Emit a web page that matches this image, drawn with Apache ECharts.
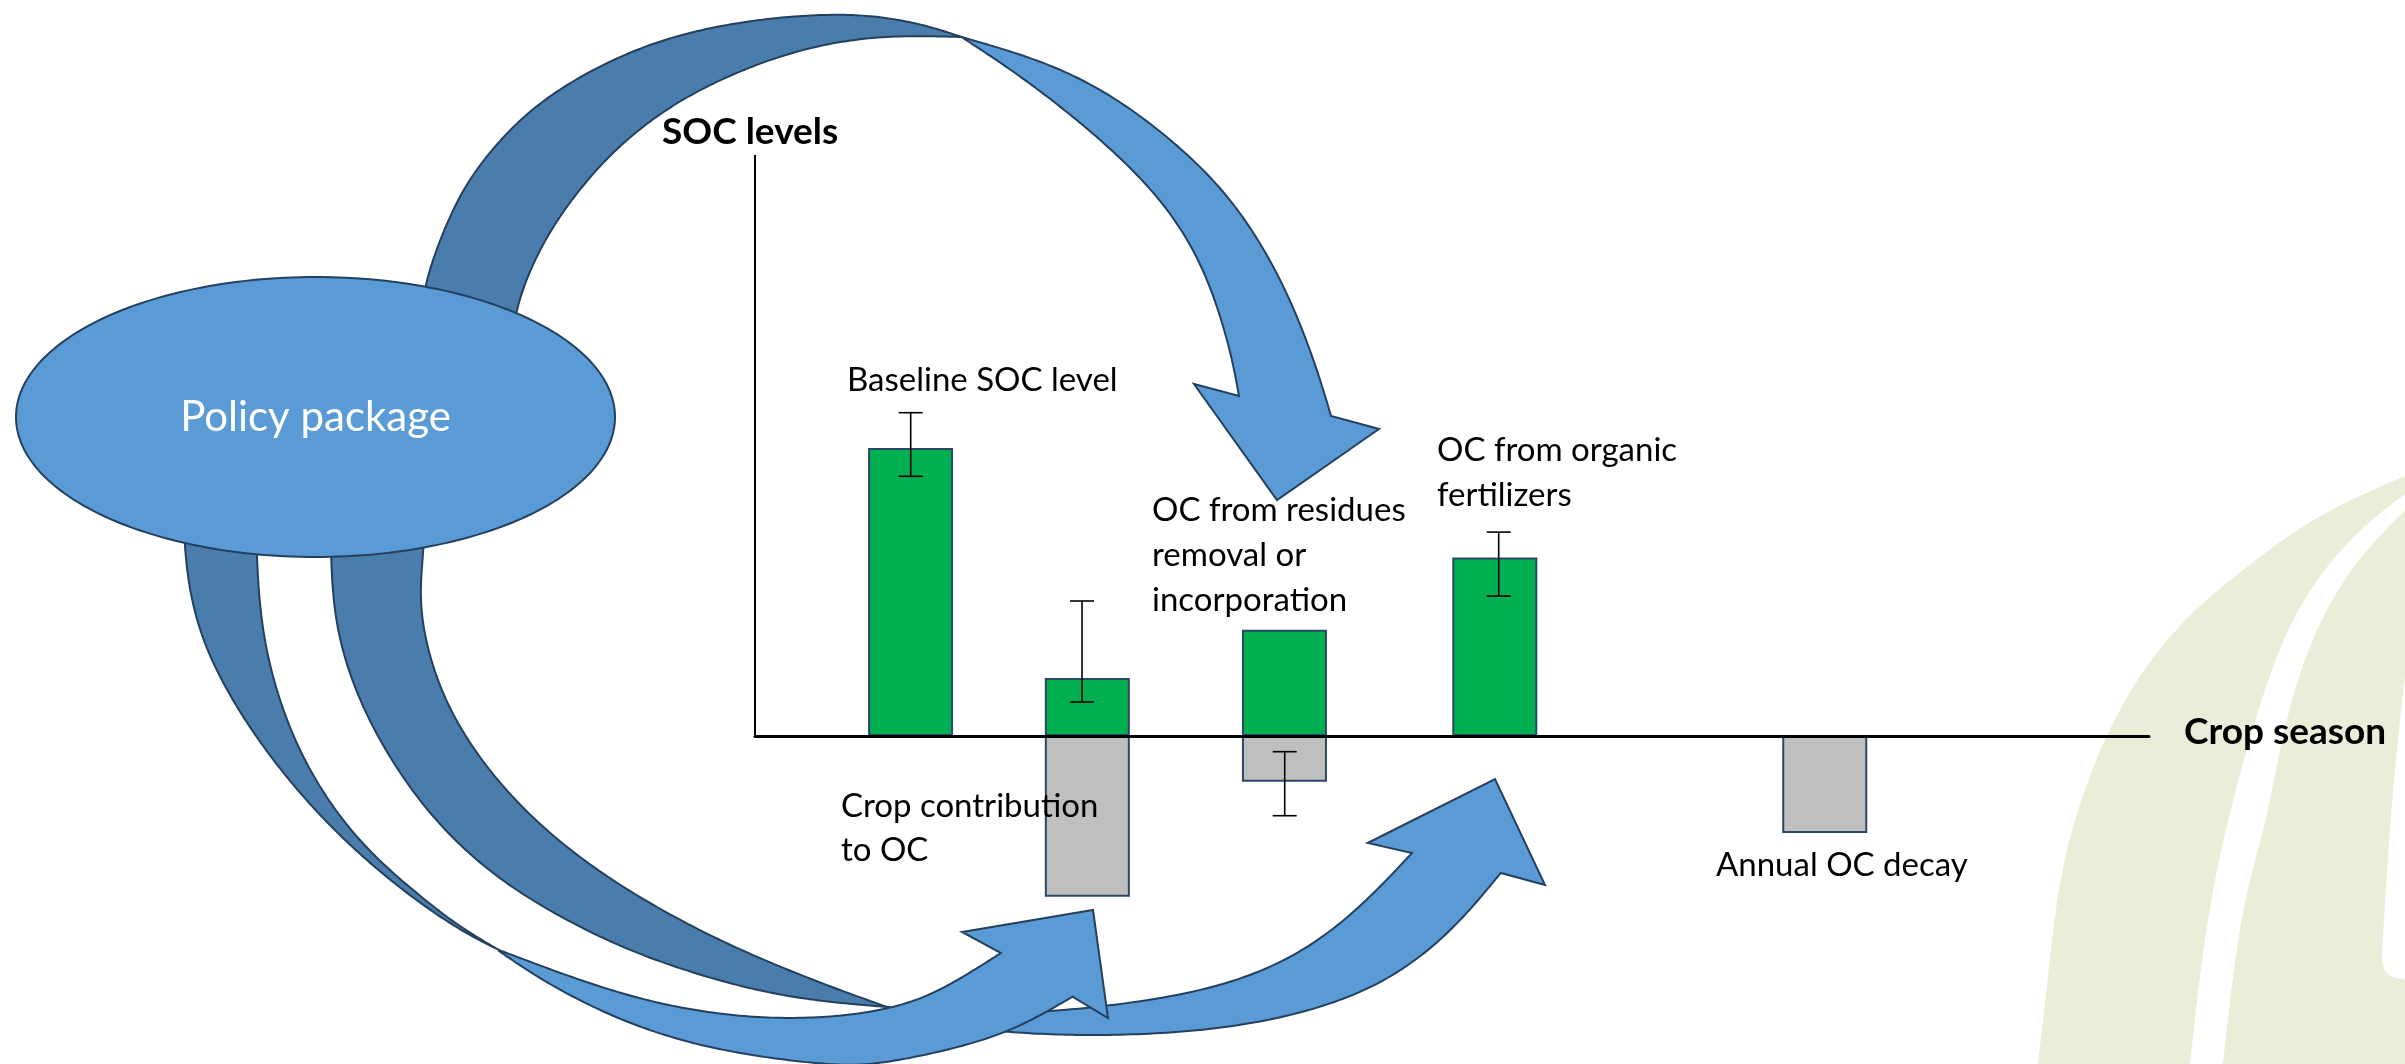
<!DOCTYPE html>
<html><head><meta charset="utf-8">
<script src="https://cdn.jsdelivr.net/npm/echarts@6/dist/echarts.min.js"></script>
<style>html,body{margin:0;padding:0;background:#fff}#c{width:2405px;height:1064px}</style>
</head><body><div id="c"></div>
<script>
// ---------------- DATA ----------------
const axisTitles = ['SOC levels', 'Crop season'];
const componentNames = ['Baseline SOC level', 'OC from residues removal or incorporation', 'OC from organic fertilizers', 'Crop contribution to OC', 'Annual OC decay'];
// position of each bar along the crop-season axis
const seasonPos   = [1.116, 2.384, 3.798, 5.307, 7.674];
// SOC gains (green) and losses (grey)
const gainValues  = [28.8, 5.8, 10.63, 17.85, null];
const lossValues  = [null, -16.07, -4.57, null, -9.7];
// error bars
const errPos      = [1.117, 2.346, 3.80, 5.335];
const errLow      = [25.97, 3.4, -7.97, 13.99];
const errHigh     = [32.33, 13.5, -1.57, 20.39];
const yAxisTop    = 58.1;
const centreText  = 'Policy package';

// ---------------- LAYOUT / STYLE ----------------
const FONT = 'Lato, "Open Sans", sans-serif';
const REG = 33, BOLD = 37;
const mid = (baseline, fs) => baseline - 0.387 * fs;

const labelLayout = [
  {lines: ['Baseline SOC level'], x: 847, base: [393]},
  {lines: ['OC from residues', 'removal or', 'incorporation'], x: 1152, base: [523, 568, 613]},
  {lines: ['OC from organic', 'fertilizers'], x: 1437, base: [463.5, 508]},
  {lines: ['Crop contribution', 'to OC'], x: 841, base: [819, 863]},
  {lines: ['Annual OC decay'], x: 1716, base: [878]}
];

// clamped uniform cubic B-spline (smooths small measurement noise, keeps end points)
function spline(pts, seg) {
  seg = seg || 16;
  const P = [pts[0], pts[0]].concat(pts, [pts[pts.length - 1], pts[pts.length - 1]]);
  const out = [];
  for (let i = 0; i < P.length - 3; i++) {
    const p0 = P[i], p1 = P[i + 1], p2 = P[i + 2], p3 = P[i + 3];
    const last = (i === P.length - 4);
    for (let s = 0; s <= (last ? seg : seg - 1); s++) {
      const t = s / seg, it = 1 - t;
      const b0 = it * it * it / 6, b1 = (3 * t * t * t - 6 * t * t + 4) / 6,
            b2 = (-3 * t * t * t + 3 * t * t + 3 * t + 1) / 6, b3 = t * t * t / 6;
      out.push([b0 * p0[0] + b1 * p1[0] + b2 * p2[0] + b3 * p3[0],
                b0 * p0[1] + b1 * p1[1] + b2 * p2[1] + b3 * p3[1]]);
    }
  }
  return out;
}
function ellipsePts(cx, cy, rx, ry) {
  const o = [];
  for (let i = 0; i < 240; i++) { const a = i / 240 * Math.PI * 2; o.push([cx + rx * Math.cos(a), cy + ry * Math.sin(a)]); }
  return o;
}

const DARK = '#4A7DAB', LIGHT = '#5B9BD5', EDGE = '#24405F';
const OLIVE = '#EBEDD8';

// decorative shapes (pixel outlines)
const topBackOuter = [[418,340],[423.7,286.7],[439.5,240],[463,186.7],[499,140],[538,103],[590,70],[657,40],[736,21.7],[815,14],[874.5,15],[926,25],[961.5,37]];
const topBackInner = [[961.5,37],[886,35],[815,45],[748,66.7],[684.7,96.7],[637,130],[597.7,166.7],[558,216.7],[530.5,266.7],[514.7,313],[511,350]];
const topFrontOuter = [[961.5,37],[1038,59],[1101,88],[1162,131],[1222,186],[1266,250],[1297,314],[1319,375],[1331,416]];
const topFrontHead = [[1379,429],[1277,500],[1194,384]];
const topFrontInner = [[1239,396],[1232,357],[1217,304],[1196,252],[1162,200],[1115,152],[1064,109],[1012,70],[961.5,37]];

const b1DarkOuter = [[182,480],[184.2,543],[189,590],[202,640],[226,690],[258,740.5],[297,790.7],[344,840.8],[402.4,891],[460.5,931],[499,950]];
const b1DarkInner = [[499,950],[460.5,927.7],[417,894],[363.6,847.5],[320,790.7],[286,724],[261.8,640],[256,553],[256,480]];
const b1Upper = [[499,950],[572,977.8],[644.7,1001],[717,1014.6],[790,1019.6],[863,1014.6],[920,1001],[965,976],[1001,953]];
const b1Head = [[962,932],[1093,910],[1108,1018]];
const b1Lower = [[1072.5,996.7],[1012.7,1031.7],[945.7,1051],[880,1064],[840,1066],[766,1058],[693,1044.7],[620.5,1021],[547.8,984.5],[499,951]];

const b2DarkLeft = [[330,480],[330.6,556.7],[334.5,623.6],[354,690.4],[387.8,757],[436,824],[499,881],[572,924],[644.7,957.8],[741.7,988],[814.4,1001],[887,1007]];
const b2DarkRight = [[887,1007],[814.4,981],[717.5,941],[620.5,887.6],[547.8,834],[489.6,774],[446,707],[424,640],[419.3,590],[424,550],[426,480]];
const b2Upper = [[887,1007],[960,1014],[1048.6,1013],[1185,997],[1280.6,967],[1352,917],[1412,853]];
const b2Head = [[1367.7,843],[1495,779],[1545,885]];
const b2Lower = [[1500.7,873],[1448,937],[1376,990],[1280.6,1020],[1185,1033],[1089,1036],[1012.7,1033],[940,1025],[887,1007]];

const bgOuter = [[2038,1064],[2050,960],[2060,866],[2093,760],[2137,675],[2190,612],[2250,564],[2317,514],[2405,476]];
const bgStripe = spline([[2190,1064],[2207,908],[2237,781],[2270,670],[2300,601],[2350,536],[2405,494]]).concat(
                 spline([[2405,510],[2350,566],[2310,639],[2283,727],[2267,823],[2240,908],[2223,1064]]));
const bgRight = spline([[2405,677],[2397,746],[2390,823],[2383,937],[2381,962],[2386,974],[2395,978],[2405,980]]);

function poly(points, fill, stroke, z) {
  return {type: 'polygon', silent: true, z: z, shape: {points: points},
          style: {fill: fill, stroke: stroke || null, lineWidth: stroke ? 2 : 0, lineJoin: 'miter'}};
}
function txt(text, x, y, font, fill, align) {
  return {type: 'text', silent: true, z: 100,
          style: {text: text, x: x, y: y, fill: fill, font: font,
                  align: align, textAlign: align, verticalAlign: 'middle', textVerticalAlign: 'middle'}};
}

const graphics = [
  poly(spline(bgOuter).concat([[2405,1064]]), OLIVE, null, 0),
  poly(bgStripe, '#FFFFFF', null, 0),
  poly(bgRight, '#FFFFFF', null, 0),
  poly(spline(b2DarkLeft).concat(spline(b2DarkRight)), DARK, EDGE, 1),
  poly(spline(b2Upper).concat(b2Head, spline(b2Lower)), LIGHT, EDGE, 1),
  poly(spline(b1DarkOuter).concat(spline(b1DarkInner)), DARK, EDGE, 1),
  poly(spline(b1Upper).concat(b1Head, spline(b1Lower)), LIGHT, EDGE, 1),
  poly(spline(topBackOuter).concat(spline(topBackInner)), DARK, EDGE, 1),
  poly(spline(topFrontOuter).concat(topFrontHead, spline(topFrontInner)), LIGHT, EDGE, 1),
  poly(ellipsePts(315.5, 417, 299.5, 140), LIGHT, EDGE, 1),
  txt(centreText, 315.5, mid(434, 42), '42px ' + FONT, '#FFFFFF', 'center'),
  txt(axisTitles[0], 662, mid(146.5, BOLD), 'bold ' + BOLD + 'px ' + FONT, '#000', 'left'),
  txt(axisTitles[1], 2184, mid(746, BOLD), 'bold ' + BOLD + 'px ' + FONT, '#000', 'left')
];
labelLayout.forEach(function (L) {
  L.lines.forEach(function (t, k) {
    graphics.push(txt(t, L.x, mid(L.base[k], REG), REG + 'px ' + FONT, '#000', 'left'));
  });
});

const gainData = seasonPos.map((x, i) => gainValues[i] == null ? null : [x, gainValues[i]]).filter(Boolean);
const lossData = seasonPos.map((x, i) => lossValues[i] == null ? null : [x, lossValues[i]]).filter(Boolean);
const errData = errPos.map((x, i) => [x, errLow[i], errHigh[i]]);

const barBorder = {borderColor: '#2C4766', borderWidth: 2};

const option = {
  animation: false,
  backgroundColor: '#FFFFFF',
  grid: {left: 755, right: 256, top: 155, bottom: 128, containLabel: false},
  xAxis: {type: 'value', min: 0, max: 10, z: 5,
          axisLine: {show: true, onZero: true, lineStyle: {color: '#000', width: 3}},
          axisTick: {show: false}, axisLabel: {show: false}, splitLine: {show: false}},
  yAxis: {type: 'value', min: -20, max: yAxisTop,
          axisLine: {show: false}, axisTick: {show: false}, axisLabel: {show: false}, splitLine: {show: false}},
  graphic: graphics,
  series: [
    {name: 'Gain', type: 'bar', stack: 'soc', barWidth: 85, z: 3,
     itemStyle: Object.assign({color: '#00B050'}, barBorder),
     data: gainData,
     markLine: {silent: true, symbol: 'none', label: {show: false},
                lineStyle: {color: '#000', width: 2, type: 'solid'},
                data: [[{coord: [0, 0]}, {coord: [0, yAxisTop]}]]}},
    {name: 'Loss', type: 'bar', stack: 'soc', barWidth: 85, z: 3,
     itemStyle: Object.assign({color: '#BFBFBF'}, barBorder),
     data: lossData},
    {name: 'Error', type: 'custom', z: 4, data: errData,
     renderItem: function (params, api) {
       const x = api.value(0);
       const pHi = api.coord([x, api.value(2)]);
       const pLo = api.coord([x, api.value(1)]);
       const w = 12;
       const st = {stroke: '#000', lineWidth: 1.6};
       return {type: 'group', children: [
         {type: 'line', shape: {x1: pHi[0], y1: pHi[1], x2: pLo[0], y2: pLo[1]}, style: st},
         {type: 'line', shape: {x1: pHi[0] - w, y1: pHi[1], x2: pHi[0] + w, y2: pHi[1]}, style: st},
         {type: 'line', shape: {x1: pLo[0] - w, y1: pLo[1], x2: pLo[0] + w, y2: pLo[1]}, style: st}
       ]};
     }}
  ]
};
const chart = echarts.init(document.getElementById('c'));
chart.setOption(option);
</script>
</body></html>
